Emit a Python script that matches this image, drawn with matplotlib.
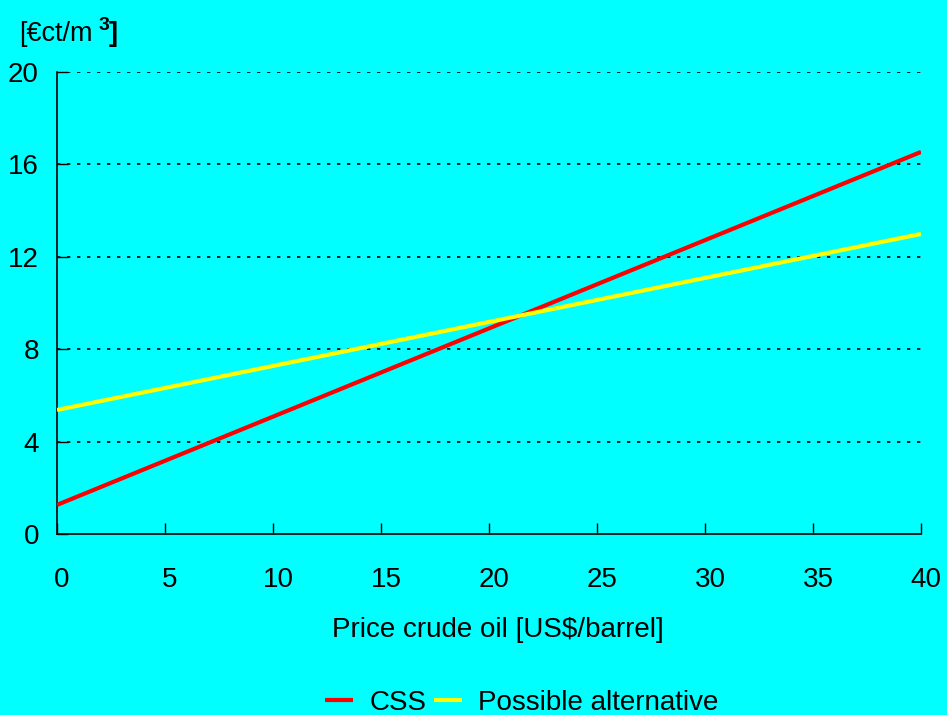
import matplotlib.pyplot as plt
import numpy as np

plt.rcParams['font.family'] = ['Liberation Sans', 'DejaVu Sans']

# Data (line end points)
oil_price = [0, 40]
css = [1.26, 16.54]
alternative = [5.37, 12.99]

x_ticks = [0, 5, 10, 15, 20, 25, 30, 35, 40]
y_ticks = [0, 4, 8, 12, 16, 20]

bg = '#00ffff'
W, H = 947, 715
fig = plt.figure(figsize=(W / 100, H / 100), dpi=100, facecolor=bg)
ax = fig.add_axes([57 / W, 1 - 534 / H, (921 - 57) / W, (534 - 72) / H])
ax.set_facecolor(bg)

ax.plot(oil_price, css, color='#ff0000', lw=3, label='CSS', solid_capstyle='butt', zorder=3)
ax.plot(oil_price, alternative, color='#ffff00', lw=3, label='Possible alternative',
        solid_capstyle='butt', zorder=3)

ax.set_xlim(0, 40)
ax.set_ylim(0, 20)
ax.set_xticks(x_ticks)
ax.set_yticks(y_ticks)
ax.tick_params(axis='x', direction='in', length=8, width=1, pad=24, labelsize=20)
ax.tick_params(axis='y', direction='in', length=8, width=1, pad=13, labelsize=20)

# nudge x tick labels a little to the right like the original
for lbl in ax.get_xticklabels():
    lbl.set_x(lbl.get_position()[0])
    lbl.set_horizontalalignment('center')
from matplotlib.transforms import ScaledTranslation
offset = ScaledTranslation(5 / 100, 0, fig.dpi_scale_trans)
for lbl in ax.get_xticklabels():
    lbl.set_transform(lbl.get_transform() + offset)

for v in y_ticks[1:]:
    ax.axhline(v, color='black', lw=1.2, ls=(0, (2, 4)), zorder=1)

for s in ['top', 'right']:
    ax.spines[s].set_visible(False)
ax.spines['left'].set_linewidth(1.2)
ax.spines['bottom'].set_linewidth(1.2)

fig.text(498 / W, 1 - 630 / H, 'Price crude oil [US$/barrel]', fontsize=20,
         ha='center', va='center')

# unit label
fig.text(19 / W, 1 - 34 / H, '[€ct/m', fontsize=19.5, va='center', ha='left')
fig.text(99 / W, 1 - 26 / H, '3', fontsize=14, fontweight='bold', va='center', ha='left')
fig.text(109 / W, 1 - 34 / H, ']', fontsize=19.5, fontweight='bold', va='center', ha='left')

fig.legend(loc='center', bbox_to_anchor=(522 / W, 1 - 703 / H), ncol=2, frameon=False,
           fontsize=20, handlelength=1.0, columnspacing=0.25, handletextpad=0.6,
           borderpad=0, borderaxespad=0)

fig.savefig('out.png', dpi=100, facecolor=bg)
